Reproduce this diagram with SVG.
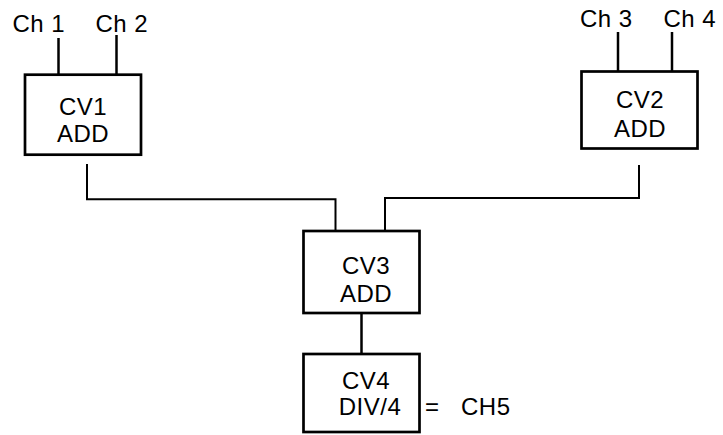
<svg xmlns="http://www.w3.org/2000/svg" width="723" height="435" viewBox="0 0 723 435">
<style>
  .box { fill: #ffffff; stroke: #000000; stroke-width: 2.7; }
  .lead { stroke: #000000; stroke-width: 2.5; fill: none; }
  .conn { stroke: #000000; stroke-width: 2; fill: none; }
  text { font-family: "Liberation Sans", Arial, Helvetica, sans-serif; font-size: 24px; fill: #000000; letter-spacing: 0.5px; }
  .c { text-anchor: middle; }
</style>
<rect width="723" height="435" fill="#ffffff"/>
<g id="connectors">
  <path class="lead" d="M58.5 38 V74.7"/>
  <path class="lead" d="M116.5 35 V74.7"/>
  <path class="lead" d="M618 32 V71.5"/>
  <path class="lead" d="M672 32 V71.5"/>
  <path class="conn" d="M87 164 V199.3 H335.5 V231"/>
  <path class="conn" d="M639 165 V198 H385 V231"/>
  <path class="lead" d="M361.5 313 V354"/>
</g>
<g id="inputs">
  <text x="12.5" y="32">Ch 1</text>
  <text x="95.5" y="32">Ch 2</text>
  <text x="580" y="26.5">Ch 3</text>
  <text x="663.5" y="26.5">Ch 4</text>
</g>
<g id="cv1">
  <rect class="box" x="25" y="74.7" width="116" height="80"/>
  <text class="c" x="83" y="115">CV1</text>
  <text class="c" x="83" y="141.5">ADD</text>
</g>
<g id="cv2">
  <rect class="box" x="581.5" y="71.5" width="116" height="77"/>
  <text class="c" x="640" y="108.3">CV2</text>
  <text class="c" x="640" y="136.7">ADD</text>
</g>
<g id="cv3">
  <rect class="box" x="303.5" y="231" width="116" height="82"/>
  <text class="c" x="366" y="274">CV3</text>
  <text class="c" x="366" y="302">ADD</text>
</g>
<g id="cv4">
  <rect class="box" x="303.5" y="354" width="116" height="78"/>
  <text class="c" x="366" y="389">CV4</text>
  <text class="c" x="370" y="415">DIV/4</text>
</g>
<g id="ch5">
  <text x="425" y="415">=</text>
  <text x="461" y="415">CH5</text>
</g>
</svg>
